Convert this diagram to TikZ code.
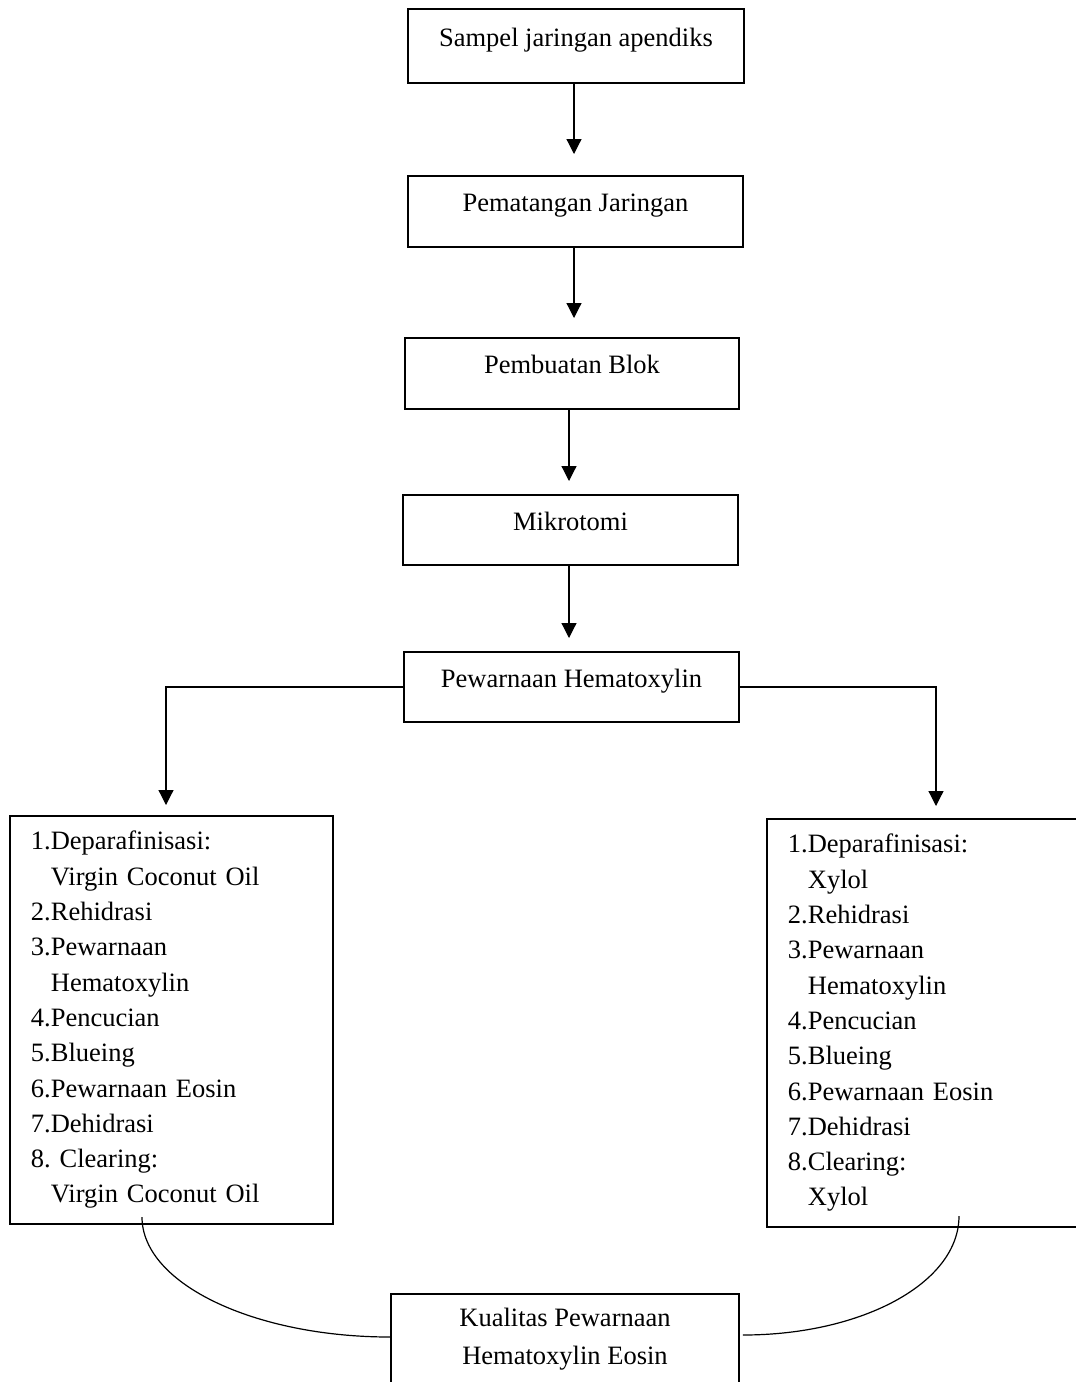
\documentclass[tikz,border=0pt]{standalone}
\usepackage{fontspec}
\setmainfont{Liberation Serif}
\usetikzlibrary{arrows.meta}
\frenchspacing
\begin{document}
\begin{tikzpicture}[x=1pt,y=-1pt,
  font=\fontsize{26.5}{35.3}\selectfont,
  box/.style={draw, line width=1.9pt, inner sep=0pt, text height=20pt, text depth=20pt},
  listbox/.style={draw, line width=1.9pt, align=left, inner ysep=0pt, inner xsep=21pt, anchor=north west},
  conn/.style={line width=1.2pt},
  arr/.style={conn, -{Triangle[width=15pt,length=15pt]}}]
\useasboundingbox (0,0) rectangle (1076,1382);
\clip (0,0) rectangle (1076,1382);

\node[box, minimum width=336pt, minimum height=74pt] (b1) at (576,46) {Sampel jaringan apendiks};
\node[box, minimum width=335pt, minimum height=71pt] (b2) at (575.5,211.5) {Pematangan Jaringan};
\node[box, minimum width=334pt, minimum height=71pt] (b3) at (572,373.5) {Pembuatan Blok};
\node[box, minimum width=335pt, minimum height=70pt] (b4) at (570.5,530) {Mikrotomi};
\node[box, minimum width=335pt, minimum height=70pt] (b5) at (571.5,687) {Pewarnaan Hematoxylin};

\node[listbox, text width=281pt, minimum height=408pt] (lbox) at (9,815) {1.Deparafinisasi:\\
\hspace*{20pt}Virgin Coconut Oil\\
2.Rehidrasi\\
3.Pewarnaan\\
\hspace*{20pt}Hematoxylin\\
4.Pencucian\\
5.Blueing\\
6.Pewarnaan Eosin\\
7.Dehidrasi\\
8. Clearing:\\
\hspace*{20pt}Virgin Coconut Oil};

\node[listbox, text width=300pt, minimum height=408pt] (rbox) at (766,818) {1.Deparafinisasi:\\
\hspace*{20pt}Xylol\\
2.Rehidrasi\\
3.Pewarnaan\\
\hspace*{20pt}Hematoxylin\\
4.Pencucian\\
5.Blueing\\
6.Pewarnaan Eosin\\
7.Dehidrasi\\
8.Clearing:\\
\hspace*{20pt}Xylol};

\node[draw, line width=1.9pt, minimum width=348pt, minimum height=120pt, anchor=north] (kual) at (565,1293) {};
\node[align=center, font=\fontsize{26.5}{37.5}\selectfont] (kualtext) at (565,1339) {Kualitas Pewarnaan\\Hematoxylin Eosin};

\coordinate (t1) at (574,154);
\coordinate (t2) at (574,318);
\coordinate (t3) at (569,481);
\coordinate (t4) at (569,638);
\draw[arr] (b1.south -| t1) -- (t1);
\draw[arr] (b2.south -| t2) -- (t2);
\draw[arr] (b3.south -| t3) -- (t3);
\draw[arr] (b4.south -| t4) -- (t4);

\coordinate (lt) at (166,805);
\coordinate (rt) at (936,806);
\draw[arr] (b5.west) -| (lt);
\draw[arr] (b5.east) -| (rt);

\coordinate (lc) at (142,1217);
\coordinate (rc) at (959,1216);
\coordinate (lend) at ([yshift=-44pt]kual.north west);
\coordinate (rend) at ([xshift=3pt,yshift=-42pt]kual.north east);
\draw[conn] (lc) .. controls (142,1284) and (255,1337) .. (lend);
\draw[conn] (rc) .. controls (959,1283) and (862,1335) .. (rend);
\end{tikzpicture}
\end{document}
